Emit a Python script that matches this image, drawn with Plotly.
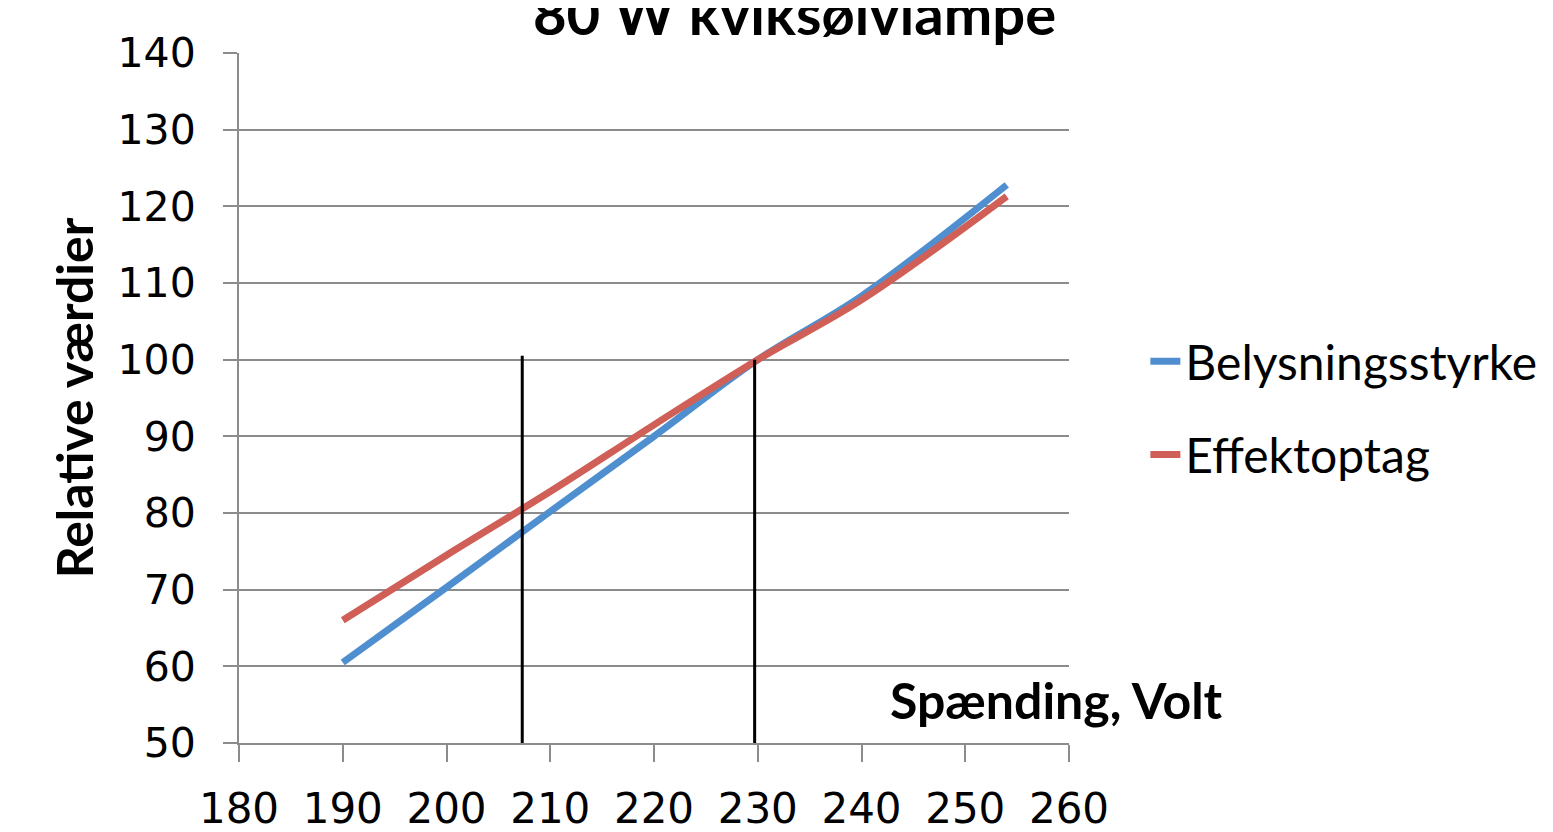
import plotly.graph_objects as go

# målepunkter (spænding i volt) og relative værdier
volt = [190, 200, 210, 220, 230, 240, 254]
belysning = [60.5, 70.3, 80.2, 90.0, 100.0, 108.3, 122.8]
effekt = [66.0, 74.5, 82.8, 91.5, 100.0, 107.8, 121.3]

# lodrette hjælpelinjer
hjaelp_volt = [207.3, 229.7]
hjaelp_top = [100.5, 100.0]
y_bund = 50

x_ticks = [180, 190, 200, 210, 220, 230, 240, 250, 260]
y_ticks = [50, 60, 70, 80, 90, 100, 110, 120, 130, 140]

BLUE = "#4f8fcf"
RED = "#cf5f57"
GRID = "#8c8c8c"

fig = go.Figure()

fig.add_trace(go.Scatter(x=volt, y=belysning, mode="lines", name="Belysningsstyrke",
                         line=dict(color=BLUE, width=7, shape="spline"), legendgroup="a"))
fig.add_trace(go.Scatter(x=volt, y=effekt, mode="lines", name="Effektoptag",
                         line=dict(color=RED, width=7, shape="spline"), legendgroup="b"))

for v, top in zip(hjaelp_volt, hjaelp_top):
    fig.add_trace(go.Scatter(x=[v, v], y=[y_bund, top], mode="lines", showlegend=False,
                             line=dict(color="black", width=3), hoverinfo="skip"))

# siden har 8 px body-margen, så marginerne er trukket tilsvarende
fig.update_layout(
    width=1553, height=832,
    margin=dict(l=231, r=492, t=45, b=97),
    paper_bgcolor="white", plot_bgcolor="white",
    title=dict(text="<b>80 W kviksølvlampe</b>", x=0.5065, xanchor="center",
               y=0.968, yanchor="bottom", yref="container",
               font=dict(family="Lato", size=58, color="black")),
    showlegend=True,
    legend=dict(x=1.092, y=0.4855, xanchor="left", yanchor="middle",
                font=dict(family="Lato", size=48, color="black"),
                tracegroupgap=28, bgcolor="rgba(0,0,0,0)"),
    annotations=[dict(text="<b>Spænding, Volt</b>", xref="paper", yref="paper",
                      x=1.188, y=0.062, xanchor="right", yanchor="middle", showarrow=False,
                      font=dict(family="Lato", size=50, color="black"))],
)

fig.update_xaxes(range=[180, 260], tickvals=x_ticks, showgrid=False, zeroline=False,
                 showline=True, linecolor=GRID, linewidth=2, automargin=False,
                 ticks="outside", ticklen=17, tickwidth=2, tickcolor=GRID, ticklabelstandoff=11,
                 tickfont=dict(family="DejaVu Sans", size=42, color="black"))
fig.update_yaxes(range=[50, 140], tickvals=y_ticks, showgrid=True, gridcolor=GRID, gridwidth=1.5,
                 zeroline=False, showline=True, linecolor=GRID, linewidth=2, automargin=False,
                 ticks="outside", ticklen=14, tickwidth=2, tickcolor=GRID, ticklabelstandoff=19,
                 tickfont=dict(family="DejaVu Sans", size=41, color="black"),
                 title=dict(text="<b>Relative værdier</b>", standoff=8,
                            font=dict(family="Lato", size=50, color="black")))

fig.write_html("out.html")
